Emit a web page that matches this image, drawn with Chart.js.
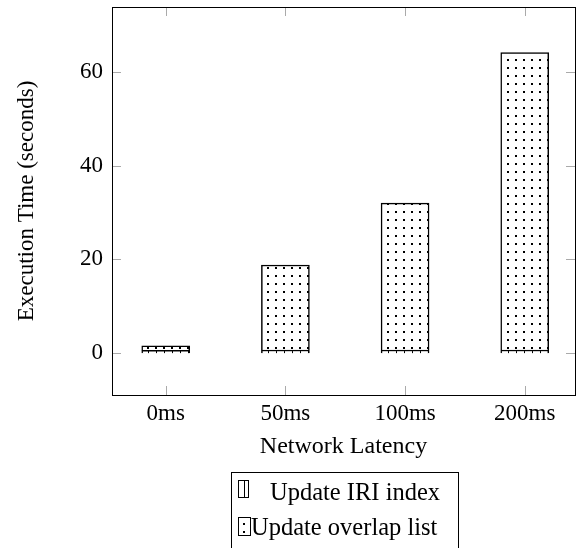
<!DOCTYPE html>
<html>
<head>
<meta charset="utf-8">
<script src="https://cdn.jsdelivr.net/npm/chart.js@4/dist/chart.umd.min.js"></script>
<style>
  html, body { margin: 0; padding: 0; background: #fff; }
  #wrap { width: 580px; height: 548px; }
</style>
</head>
<body>
<div id="wrap"><canvas id="chart" width="580" height="548"></canvas></div>
<script>
const categories = ['0ms', '50ms', '100ms', '200ms'];
const iriIndex = [0.6, 0.7, 0.7, 0.7];
const overlapList = [1.0, 18.1, 31.3, 63.4];
const seriesNames = ['Update IRI index', 'Update overlap list'];
const yTicks = [0, 20, 40, 60];

const serif = "'Liberation Serif', 'Times New Roman', serif";
Chart.defaults.font.family = serif;
Chart.defaults.font.size = 23;
Chart.defaults.color = '#000';

const canvas = document.getElementById('chart');
const ctx = canvas.getContext('2d');

// pgfplots-like fill patterns, 8px cells
function makePattern(kind) {
  const c = document.createElement('canvas');
  c.width = 8;
  c.height = 8;
  const g = c.getContext('2d');
  g.fillStyle = '#fff';
  g.fillRect(0, 0, 8, 8);
  g.fillStyle = '#000';
  if (kind === 'lines') {
    g.fillRect(4, 0, 1, 8);
  } else {
    g.fillRect(3, 3, 2, 2);
  }
  return ctx.createPattern(c, 'repeat');
}
const linesPattern = makePattern('lines');
const dotsPattern = makePattern('dots');

// box, inward ticks on all four sides, and the legend
const framePlugin = {
  id: 'frame',
  afterDatasetsDraw(chart) {
    const { ctx, chartArea: a, scales } = chart;
    ctx.save();
    ctx.strokeStyle = '#aaa';
    ctx.lineWidth = 1;
    const tl = 9;
    ctx.beginPath();
    yTicks.forEach(v => {
      const y = Math.round(scales.y.getPixelForValue(v)) + 0.5;
      ctx.moveTo(a.left, y); ctx.lineTo(a.left + tl, y);
      ctx.moveTo(a.right, y); ctx.lineTo(a.right - tl, y);
    });
    categories.forEach((c, i) => {
      const x = Math.round(scales.x.getPixelForValue(i)) + 0.5;
      ctx.moveTo(x, a.bottom); ctx.lineTo(x, a.bottom - tl);
      ctx.moveTo(x, a.top); ctx.lineTo(x, a.top + tl);
    });
    ctx.stroke();
    ctx.strokeStyle = '#000';
    ctx.strokeRect(Math.round(a.left) + 0.5, Math.round(a.top) + 0.5,
      Math.round(a.right - a.left), Math.round(a.bottom - a.top));
    ctx.restore();
  },
  afterDraw(chart) {
    const ctx = chart.ctx;
    ctx.save();
    ctx.strokeStyle = '#000';
    ctx.lineWidth = 1;
    ctx.strokeRect(231.5, 472.5, 227, 100);

    ctx.fillStyle = linesPattern;
    ctx.fillRect(238, 480, 10, 17);
    ctx.strokeRect(238.5, 480.5, 10, 17);
    ctx.fillStyle = dotsPattern;
    ctx.fillRect(238, 517, 12, 18);
    ctx.strokeRect(238.5, 517.5, 12, 18);

    ctx.fillStyle = '#000';
    ctx.font = '24.5px ' + serif;
    ctx.textBaseline = 'alphabetic';
    ctx.textAlign = 'left';
    ctx.fillText(seriesNames[0], 270, 500);
    ctx.fillText(seriesNames[1], 251, 535);
    ctx.restore();
  }
};

new Chart(canvas, {
  type: 'bar',
  data: {
    datasets: [{
      label: seriesNames[0],
      data: iriIndex.map((v, i) => ({ x: i, y: v })),
      backgroundColor: linesPattern,
      borderColor: '#000',
      borderWidth: 1.5,
      barThickness: 48
    }, {
      label: seriesNames[1],
      data: overlapList.map((v, i) => ({ x: i, y: v })),
      backgroundColor: dotsPattern,
      borderColor: '#000',
      borderWidth: 1.5,
      barThickness: 48
    }]
  },
  options: {
    responsive: false,
    animation: false,
    devicePixelRatio: 1,
    layout: { padding: { top: 7, right: 5, left: 0, bottom: 0 } },
    plugins: {
      legend: { display: false },
      tooltip: { enabled: false }
    },
    scales: {
      x: {
        type: 'linear',
        stacked: true,
        offset: false,
        min: -0.449,
        max: 3.42,
        grid: { display: false, drawTicks: false, offset: false },
        border: { display: false },
        ticks: {
          stepSize: 1,
          includeBounds: false,
          padding: 5,
          maxRotation: 0,
          autoSkip: false,
          callback: v => categories[v] ?? ''
        },
        title: {
          display: true,
          text: 'Network Latency',
          font: { size: 24 },
          padding: { top: 0, bottom: 87 }
        },
        afterFit: scale => {
          scale.height = 153;
          scale.paddingLeft = 0;
          scale.paddingRight = 0;
        }
      },
      y: {
        stacked: true,
        min: -8.9,
        max: 73.8,
        grid: { display: false, drawTicks: false },
        border: { display: false },
        ticks: {
          stepSize: 20,
          includeBounds: false,
          padding: 9
        },
        title: {
          display: true,
          text: 'Execution Time (seconds)',
          padding: { top: 13, bottom: 0 }
        },
        afterFit: scale => {
          scale.width = 112;
          scale.paddingTop = 0;
          scale.paddingBottom = 0;
        }
      }
    }
  },
  plugins: [framePlugin]
});
</script>
</body>
</html>
